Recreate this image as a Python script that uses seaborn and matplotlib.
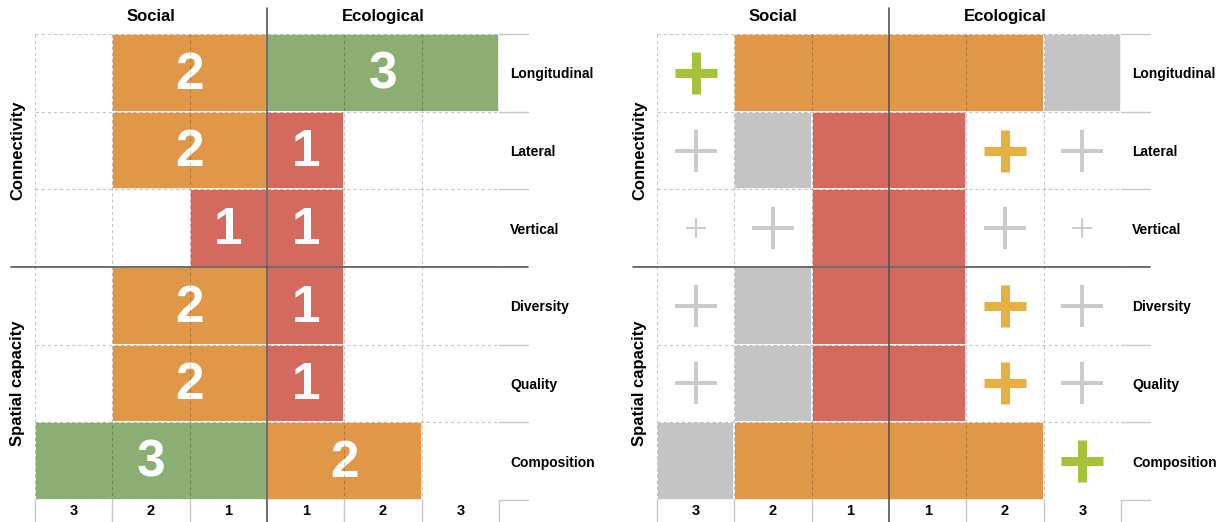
import numpy as np
import seaborn as sns
import matplotlib
import matplotlib.pyplot as plt

matplotlib.use('Agg')

sns.set_theme(style='white')
plt.rcParams['font.family'] = ['Liberation Sans', 'DejaVu Sans']
plt.rcParams['text.color'] = 'black'

# Data
rows = ['Longitudinal', 'Lateral', 'Vertical', 'Diversity', 'Quality', 'Composition']
groups = ['Connectivity', 'Spatial capacity']
sides = ['Social', 'Ecological']
levels = ['3', '2', '1', '1', '2', '3']

# left panel: score reached on each side
social_score = [2, 2, 1, 2, 2, 3]
eco_score = [3, 1, 1, 1, 1, 2]

# right panel: main bar reach on each side and its colour score
bar_social = [2, 1, 1, 1, 1, 2]
bar_eco = [2, 1, 1, 1, 1, 2]
bar_score = [2, 1, 1, 1, 1, 2]
# grey cells (level on each side, 0 = none)
grey_social = [0, 2, 0, 2, 2, 3]
grey_eco = [3, 0, 0, 0, 0, 0]
# plus marks: row index, signed level (negative = social side), kind
plus_row = [0, 1, 1, 1, 2, 2, 2, 2, 3, 3, 3, 4, 4, 4, 5]
plus_level = [-3, -3, 2, 3, -3, -2, 2, 3, -3, 2, 3, -3, 2, 3, 3]
plus_kind = ['strong3', 'weak', 'strong2', 'weak',
             'minor', 'weak', 'weak', 'minor',
             'weak', 'strong2', 'weak',
             'weak', 'strong2', 'weak',
             'strong3']

# Styles
score_colors = {1: '#D4695D', 2: '#E09848', 3: '#8BAE72'}
grey_cell = '#C4C4C4'
plus_styles = {
    'strong3': dict(color='#A4C23A', ms=30, mew=6.5),
    'strong2': dict(color='#E6B042', ms=30, mew=6.5),
    'weak': dict(color='#CACACA', ms=30, mew=2.8),
    'minor': dict(color='#CACACA', ms=15, mew=1.4),
}
light_line = '#C8C8C8'
dark_line = '#555555'


def setup_panel(ax):
    ax.set_xlim(-3, 3)
    ax.set_ylim(6, 0)
    for s in ax.spines.values():
        s.set_visible(False)
    ax.grid(False)
    ax.set_facecolor('white')

    # grid
    for x in range(-3, 4):
        if x == 0:
            continue
        ax.plot([x, x], [0, 6], ls=(0, (3, 2.5)), color='black', alpha=0.22, lw=0.8, zorder=5)
        ax.plot([x, x], [6, 6.283], color=light_line, lw=1, clip_on=False, zorder=5)
    for y in range(0, 7):
        if y == 3:
            continue
        ax.plot([-3, 3], [y, y], ls=(0, (3, 2.5)), color='black', alpha=0.22, lw=0.8, zorder=5)
        ax.plot([3, 3.375], [y, y], color=light_line, lw=1, clip_on=False, zorder=5)

    ax.plot([-3.31, 3.375], [3, 3], color=dark_line, lw=1.2, clip_on=False, zorder=7)
    ax.plot([0, 0], [-0.335, 6.283], color=dark_line, lw=1.2, clip_on=False, zorder=7)

    # headers and labels
    ax.text(-1.5, -0.22, sides[0], ha='center', va='center', fontsize=12, fontweight='bold')
    ax.text(1.5, -0.22, sides[1], ha='center', va='center', fontsize=12, fontweight='bold')
    ax.text(-3.22, 1.5, groups[0], rotation=90, ha='center', va='center',
            fontsize=12, fontweight='bold')
    ax.text(-3.22, 4.5, groups[1], rotation=90, ha='center', va='center',
            fontsize=12, fontweight='bold')

    ax.set_xticks(np.arange(-2.5, 3, 1), levels)
    ax.set_yticks(np.arange(6) + 0.5, rows)
    ax.yaxis.tick_right()
    ax.tick_params(axis='x', length=0, pad=3, labelsize=10.5)
    ax.tick_params(axis='y', length=0, pad=8, labelsize=10)
    for lbl in ax.get_xticklabels() + ax.get_yticklabels():
        lbl.set_fontweight('bold')
        lbl.set_color('black')


fig = plt.figure(figsize=(12.23, 5.22), dpi=100)
ax1 = fig.add_axes([35 / 1223, 22 / 522, 464 / 1223, 466 / 522])
ax2 = fig.add_axes([657 / 1223, 22 / 522, 464 / 1223, 466 / 522])

# Left panel
for i in range(len(rows)):
    y = i + 0.5
    s, e = social_score[i], eco_score[i]
    ax1.barh(y, -s, left=0, height=1, color=score_colors[s], edgecolor='white', lw=1.2, zorder=2)
    ax1.barh(y, e, left=0, height=1, color=score_colors[e], edgecolor='white', lw=1.2, zorder=2)
    ax1.text(-s / 2, y + 0.03, str(s), ha='center', va='center', color='white',
             fontsize=37, fontweight='bold', zorder=4)
    ax1.text(e / 2, y + 0.03, str(e), ha='center', va='center', color='white',
             fontsize=37, fontweight='bold', zorder=4)
setup_panel(ax1)

# Right panel
for i in range(len(rows)):
    y = i + 0.5
    ax2.barh(y, bar_social[i] + bar_eco[i], left=-bar_social[i], height=1,
             color=score_colors[bar_score[i]], edgecolor='white', lw=1.2, zorder=2)
    if grey_social[i]:
        ax2.barh(y, 1, left=-grey_social[i], height=1, color=grey_cell,
                 edgecolor='white', lw=1.2, zorder=2)
    if grey_eco[i]:
        ax2.barh(y, 1, left=grey_eco[i] - 1, height=1, color=grey_cell,
                 edgecolor='white', lw=1.2, zorder=2)

for r, lv, kind in zip(plus_row, plus_level, plus_kind):
    st = plus_styles[kind]
    xc = np.sign(lv) * (abs(lv) - 0.5)
    ax2.plot(xc, r + 0.5, marker='+', ls='none', color=st['color'],
             markersize=st['ms'], markeredgewidth=st['mew'], zorder=6)
setup_panel(ax2)

fig.savefig('out.png', dpi=100)
